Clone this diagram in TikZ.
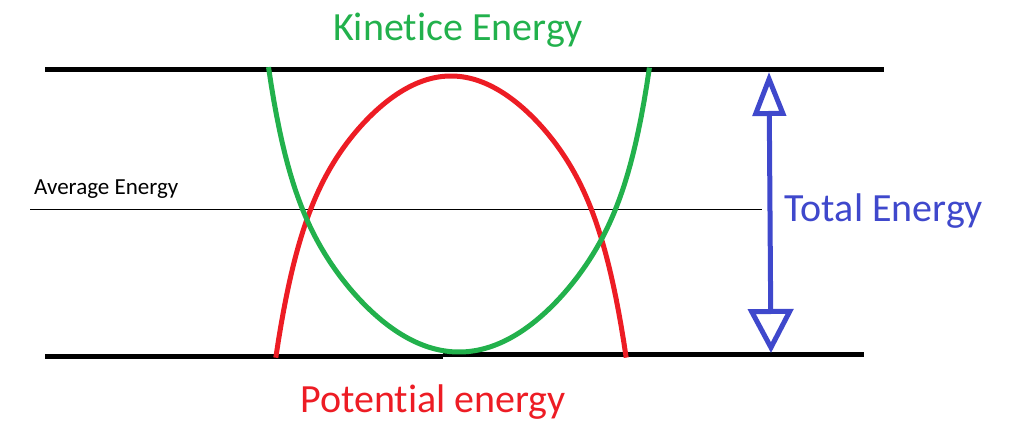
\documentclass[tikz,border=0pt]{standalone}
\usepackage{fontspec}
\setmainfont{Carlito}[Ligatures=NoCommon]
\usetikzlibrary{arrows.meta}
\definecolor{pgreen}{RGB}{34,177,76}
\definecolor{pred}{RGB}{237,28,36}
\definecolor{pblue}{RGB}{63,72,204}
\tikzset{
  level/.style={line width=5pt, black},
  curve/.style={line width=5pt, line join=round},
  bigtext/.style={font=\fontsize{40}{46}\selectfont, inner sep=0pt},
}
\begin{document}
\begin{tikzpicture}[x=1pt,y=-1pt]
\useasboundingbox (0,0) rectangle (1017,435);
% energy levels
\coordinate (tl) at (45,70);
\coordinate (tr) at (884,70);
\coordinate (bl) at (45,357);
\coordinate (bm1) at (443,357);
\coordinate (bm2) at (443,355);
\coordinate (br) at (864,355);
\draw[level] (tl) -- (tr);
\draw[level] (bl) -- (bm1);
\draw[level] (bm2) -- (br);
% average line
\coordinate (al) at (30,210);
\coordinate (ar) at (762,210);
\draw[line width=1pt] (al) -- (ar);
\node[anchor=west, font=\fontsize{23}{27}\selectfont, inner sep=0pt] (avg) at (34,189) {Average Energy};
% potential energy (red)
\draw[curve, pred] plot[domain=-1.752:1.752, samples=140, variable=\u]
  ({451+100*\u}, {76+62.92*(\u*\u)-2.47*(\u*\u)^2+1.26*(\u*\u)^4});
% kinetic energy (green)
\draw[curve, pgreen] plot[domain=-1.905:1.905, samples=140, variable=\u]
  ({459+100*\u}, {352-53*(\u*\u)-0.147*(\u*\u)^5});
% total energy arrow
\coordinate (atop) at (769,72);
\coordinate (abot) at (771,353);
\draw[pblue, line width=5pt, {Triangle[open,length=44pt,width=33pt]}-{Triangle[open,length=44pt,width=45pt]}] (atop) -- (abot);
% labels
\node[bigtext, text=pgreen] (ke) at (458,30) {Kinetice Energy};
\node[bigtext, text=pblue] (te) at (884,211) {Total Energy};
\node[bigtext, text=pred] (pe) at (433,402) {Potential energy};
\end{tikzpicture}
\end{document}
